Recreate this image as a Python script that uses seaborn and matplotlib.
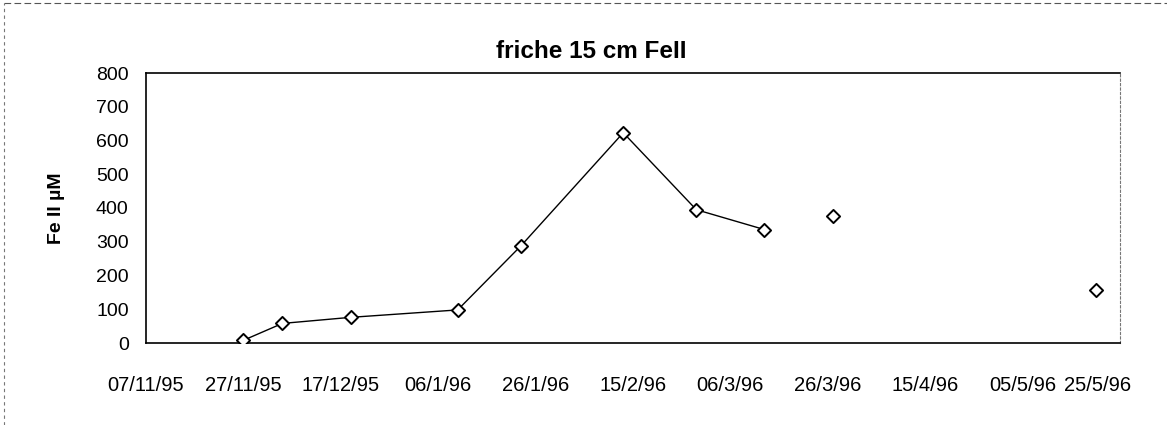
import pandas as pd
import numpy as np
import matplotlib
matplotlib.use("Agg")
import matplotlib.pyplot as plt
import matplotlib.transforms as mtransforms
from matplotlib.lines import Line2D
import seaborn as sns

# Sampling dates and Fe(II) concentrations (µM)
dates = ["1995-11-27", "1995-12-05", "1995-12-19", "1996-01-10", "1996-01-23",
         "1996-02-13", "1996-02-28", "1996-03-13", "1996-03-27", "1996-05-20"]
fe2 = [8, 58, 76, 98, 288, 623, 395, 336, 375, 158]
# Runs of consecutive samples joined by a line
segment = [0, 0, 0, 0, 0, 0, 0, 0, 1, 2]

tick_dates = ["1995-11-07", "1995-11-27", "1995-12-17", "1996-01-06", "1996-01-26",
              "1996-02-15", "1996-03-06", "1996-03-26", "1996-04-15", "1996-05-05",
              "1996-05-25"]
tick_labels = ["07/11/95", "27/11/95", "17/12/95", "06/1/96", "26/1/96", "15/2/96",
               "06/3/96", "26/3/96", "15/4/96", "05/5/96", "25/5/96"]
y_ticks = [0, 100, 200, 300, 400, 500, 600, 700, 800]

df = pd.DataFrame({"date": pd.to_datetime(dates), "fe": fe2, "seg": segment})

sns.set_theme(style="white")
plt.rcParams["font.family"] = ["Liberation Sans", "DejaVu Sans"]
plt.rcParams["text.color"] = "black"
plt.rcParams["axes.labelcolor"] = "black"

fig = plt.figure(figsize=(11.67, 4.25), dpi=100)
ax = fig.add_axes([146 / 1167, 1 - 343 / 425, (1120 - 146) / 1167, 270 / 425])

sns.lineplot(data=df, x="date", y="fe", units="seg", estimator=None,
             color="black", linewidth=1.0, ax=ax, legend=False)
sns.scatterplot(data=df, x="date", y="fe", marker="D", s=45, color="white",
                edgecolor="black", linewidth=1.4, ax=ax, legend=False, zorder=3)

tdates = pd.to_datetime(tick_dates)
ax.set_xlim(tdates[0], tdates[-1])
ax.set_ylim(0, 800)
ax.set_xticks(tdates)
ax.set_xticklabels(tick_labels)
ax.set_yticks(y_ticks)
ax.set_yticklabels([str(v) for v in y_ticks])
ax.set_xlabel("")
ax.set_ylabel("Fe II µM", fontsize=14, fontweight="bold", labelpad=22, color="black")

ax.tick_params(axis="both", colors="black", length=3, width=0.8, direction="inout")
ax.tick_params(axis="x", labelsize=14.5, pad=22)
ax.tick_params(axis="y", labelsize=14, pad=11)
# keep the last date label inside the figure
last = ax.get_xticklabels()[-1]
last.set_transform(last.get_transform() +
                   mtransforms.ScaledTranslation(-0.22, 0, fig.dpi_scale_trans))

for side in ["left", "top", "bottom"]:
    ax.spines[side].set_color("black")
    ax.spines[side].set_linewidth(1.2)
ax.spines["right"].set_color("#777777")
ax.spines["right"].set_linewidth(0.8)
ax.spines["right"].set_linestyle((0, (2, 2)))

fig.text(591 / 1167, 1 - 58 / 425, "friche 15 cm FeII", ha="center", va="baseline",
         fontsize=17.5, fontweight="bold", color="black")

# dashed frame of the chart area
fig.add_artist(Line2D([0.003, 1.0], [0.993, 0.993], transform=fig.transFigure,
                      color="#555555", linewidth=0.8, linestyle=(0, (6, 3))))
fig.add_artist(Line2D([0.003, 0.003], [0.0, 0.993], transform=fig.transFigure,
                      color="#777777", linewidth=0.8, linestyle=(0, (3, 3))))

fig.savefig("out.png", dpi=100, facecolor="white")
